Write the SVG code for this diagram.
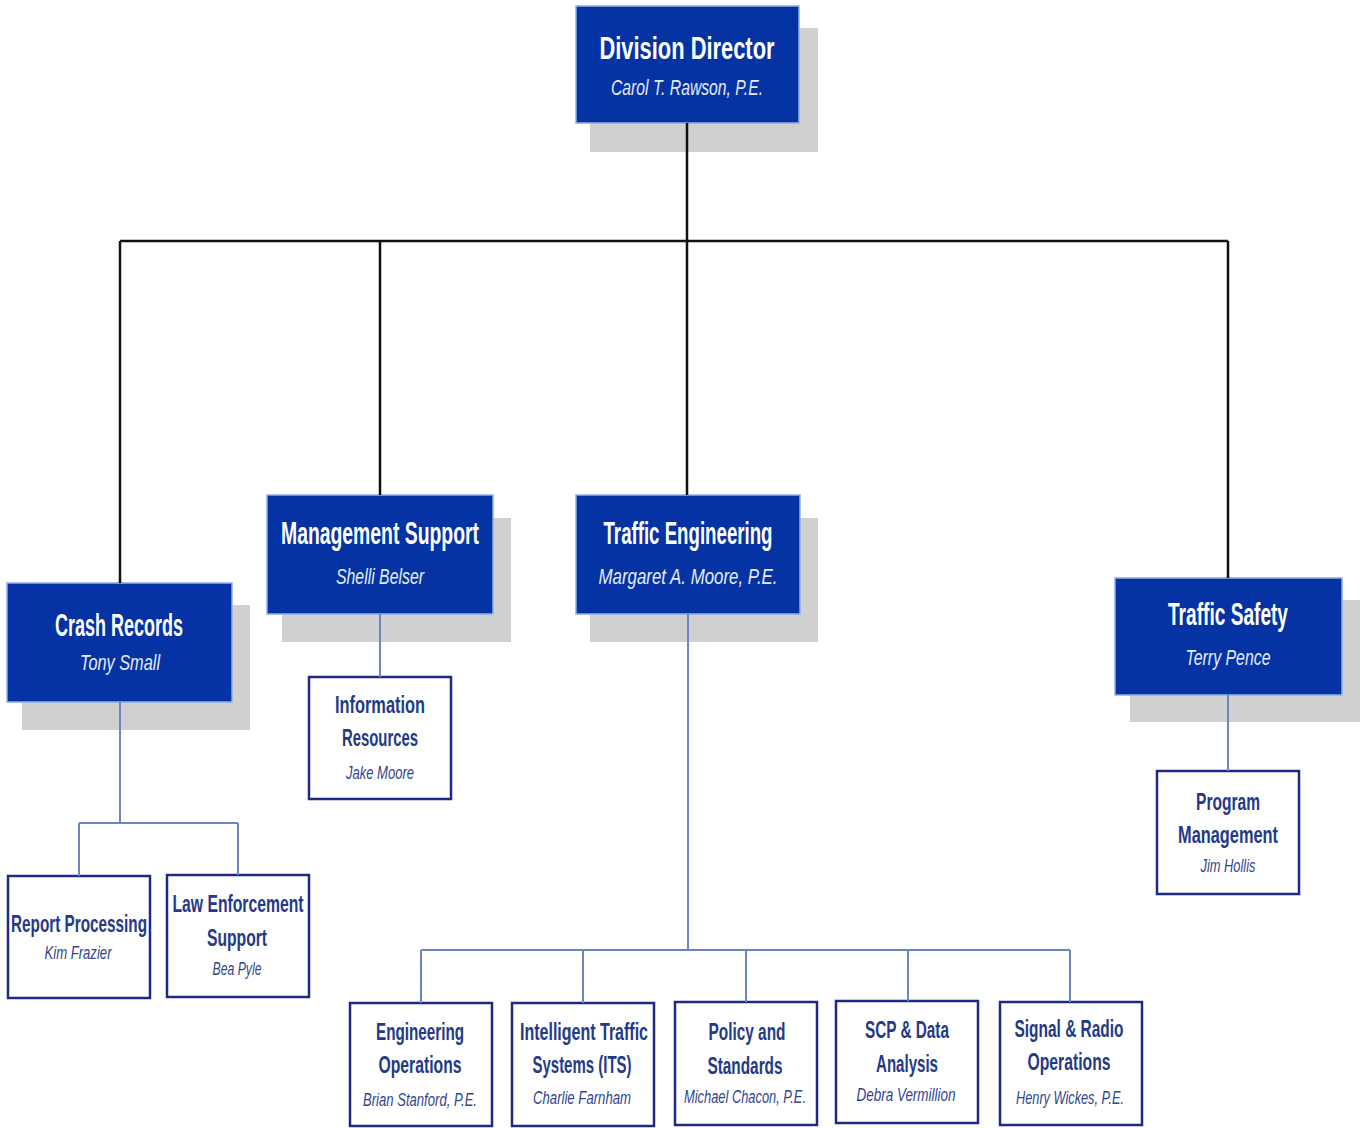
<svg xmlns="http://www.w3.org/2000/svg" width="1360" height="1128" viewBox="0 0 1360 1128">
<style>
.shadow{fill:#d0d0d0}
.dark{fill:#0533a3;stroke:#8eaee6;stroke-width:1.5}
.light{fill:#ffffff;stroke:#1d2a82;stroke-width:2.5}
.t{font-family:"Liberation Sans",Arial,sans-serif;text-anchor:middle}
.dt{fill:#ffffff;font-weight:bold;font-size:31px}
.dn{fill:#e4ecfa;font-style:italic;font-size:22px}
.lt{fill:#243a86;font-weight:bold;font-size:24px}
.ln{fill:#2f4590;font-style:italic;font-size:18px}
.blk{stroke:#111111;stroke-width:2.5;fill:none}
.blu{stroke:#6c86c4;stroke-width:2;fill:none}
</style>
<rect width="1360" height="1128" fill="#ffffff"/>
<g id="division-director">
<rect class="shadow" x="590" y="28" width="228" height="124"/>
<rect class="dark" x="576" y="6" width="223" height="117"/>
<text class="t dt" x="687" y="59" textLength="175" lengthAdjust="spacingAndGlyphs">Division Director</text>
<text class="t dn" x="687" y="95" textLength="152" lengthAdjust="spacingAndGlyphs">Carol T. Rawson, P.E.</text>
</g>
<g id="crash-records">
<rect class="shadow" x="22" y="605" width="228" height="125"/>
<rect class="dark" x="7" y="583" width="225" height="119"/>
<text class="t dt" x="119" y="636" textLength="128" lengthAdjust="spacingAndGlyphs">Crash Records</text>
<text class="t dn" x="120" y="670" textLength="80" lengthAdjust="spacingAndGlyphs">Tony Small</text>
</g>
<g id="management-support">
<rect class="shadow" x="282" y="518" width="229" height="124"/>
<rect class="dark" x="267" y="495" width="226" height="119"/>
<text class="t dt" x="380" y="544" textLength="198" lengthAdjust="spacingAndGlyphs">Management Support</text>
<text class="t dn" x="380" y="584" textLength="88" lengthAdjust="spacingAndGlyphs">Shelli Belser</text>
</g>
<g id="traffic-engineering">
<rect class="shadow" x="590" y="518" width="228" height="124"/>
<rect class="dark" x="576" y="495" width="224" height="119"/>
<text class="t dt" x="688" y="544" textLength="169" lengthAdjust="spacingAndGlyphs">Traffic Engineering</text>
<text class="t dn" x="688" y="584" textLength="179" lengthAdjust="spacingAndGlyphs">Margaret A. Moore, P.E.</text>
</g>
<g id="traffic-safety">
<rect class="shadow" x="1130" y="600" width="230" height="122"/>
<rect class="dark" x="1115" y="578" width="227" height="117"/>
<text class="t dt" x="1228" y="625" textLength="120" lengthAdjust="spacingAndGlyphs">Traffic Safety</text>
<text class="t dn" x="1228" y="665" textLength="85" lengthAdjust="spacingAndGlyphs">Terry Pence</text>
</g>
<g id="information-resources">
<rect class="light" x="309" y="677" width="142" height="122"/>
<text class="t lt" x="380" y="713" textLength="90" lengthAdjust="spacingAndGlyphs">Information</text>
<text class="t lt" x="380" y="746" textLength="76" lengthAdjust="spacingAndGlyphs">Resources</text>
<text class="t ln" x="380" y="779" textLength="68" lengthAdjust="spacingAndGlyphs">Jake Moore</text>
</g>
<g id="report-processing">
<rect class="light" x="8" y="876" width="142" height="122"/>
<text class="t lt" x="79" y="932" textLength="136" lengthAdjust="spacingAndGlyphs">Report Processing</text>
<text class="t ln" x="78" y="959" textLength="67" lengthAdjust="spacingAndGlyphs">Kim Frazier</text>
</g>
<g id="law-enforcement-support">
<rect class="light" x="167" y="875" width="142" height="122"/>
<text class="t lt" x="238" y="912" textLength="131" lengthAdjust="spacingAndGlyphs">Law Enforcement</text>
<text class="t lt" x="237" y="946" textLength="60" lengthAdjust="spacingAndGlyphs">Support</text>
<text class="t ln" x="237" y="975" textLength="49" lengthAdjust="spacingAndGlyphs">Bea Pyle</text>
</g>
<g id="program-management">
<rect class="light" x="1157" y="771" width="142" height="123"/>
<text class="t lt" x="1228" y="810" textLength="64" lengthAdjust="spacingAndGlyphs">Program</text>
<text class="t lt" x="1228" y="843" textLength="100" lengthAdjust="spacingAndGlyphs">Management</text>
<text class="t ln" x="1228" y="872" textLength="55" lengthAdjust="spacingAndGlyphs">Jim Hollis</text>
</g>
<g id="engineering-operations">
<rect class="light" x="350" y="1003" width="142" height="123"/>
<text class="t lt" x="420" y="1040" textLength="88" lengthAdjust="spacingAndGlyphs">Engineering</text>
<text class="t lt" x="420" y="1073" textLength="83" lengthAdjust="spacingAndGlyphs">Operations</text>
<text class="t ln" x="420" y="1106" textLength="114" lengthAdjust="spacingAndGlyphs">Brian Stanford, P.E.</text>
</g>
<g id="its">
<rect class="light" x="512" y="1003" width="142" height="123"/>
<text class="t lt" x="584" y="1040" textLength="128" lengthAdjust="spacingAndGlyphs">Intelligent Traffic</text>
<text class="t lt" x="582" y="1073" textLength="99" lengthAdjust="spacingAndGlyphs">Systems (ITS)</text>
<text class="t ln" x="582" y="1104" textLength="98" lengthAdjust="spacingAndGlyphs">Charlie Farnham</text>
</g>
<g id="policy-and-standards">
<rect class="light" x="675" y="1002" width="142" height="123"/>
<text class="t lt" x="747" y="1040" textLength="77" lengthAdjust="spacingAndGlyphs">Policy and</text>
<text class="t lt" x="745" y="1074" textLength="75" lengthAdjust="spacingAndGlyphs">Standards</text>
<text class="t ln" x="745" y="1103" textLength="122" lengthAdjust="spacingAndGlyphs">Michael Chacon, P.E.</text>
</g>
<g id="scp-data-analysis">
<rect class="light" x="836" y="1001" width="142" height="122"/>
<text class="t lt" x="907" y="1038" textLength="84" lengthAdjust="spacingAndGlyphs">SCP &amp; Data</text>
<text class="t lt" x="907" y="1072" textLength="62" lengthAdjust="spacingAndGlyphs">Analysis</text>
<text class="t ln" x="906" y="1101" textLength="99" lengthAdjust="spacingAndGlyphs">Debra Vermillion</text>
</g>
<g id="signal-radio-operations">
<rect class="light" x="1000" y="1002" width="142" height="123"/>
<text class="t lt" x="1069" y="1037" textLength="109" lengthAdjust="spacingAndGlyphs">Signal &amp; Radio</text>
<text class="t lt" x="1069" y="1070" textLength="83" lengthAdjust="spacingAndGlyphs">Operations</text>
<text class="t ln" x="1070" y="1104" textLength="108" lengthAdjust="spacingAndGlyphs">Henry Wickes, P.E.</text>
</g>
<g id="connectors">
<path class="blk" d="M687 123V495M120 241H1228M120 241V583M380 241V495M1228 241V578"/>
<path class="blu" d="M120 702V823M79 823H238M79 823V876M238 823V875M380 614V677M688 614V950M421 950H1070M421 950V1003M583 950V1003M746 950V1002M908 950V1001M1070 950V1002M1228 695V771"/>
</g>
</svg>
